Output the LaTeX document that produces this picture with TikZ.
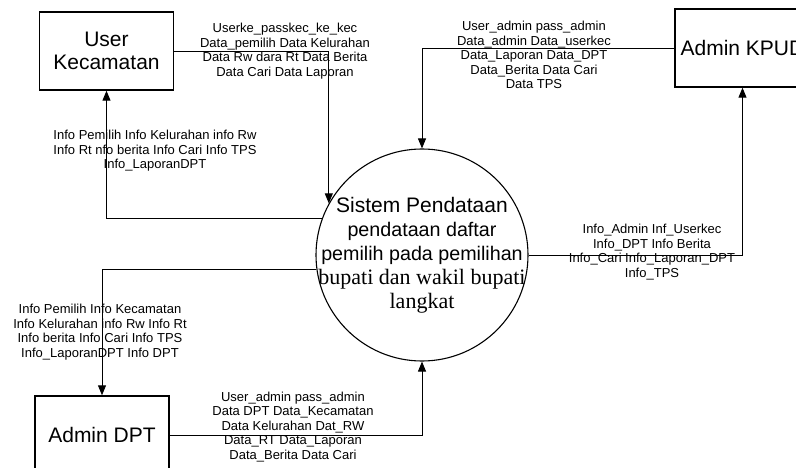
\documentclass[tikz,border=0pt]{standalone}
\usepackage{fontspec}
\setmainfont{Liberation Sans}
\newfontfamily\tnr{Liberation Serif}
\usetikzlibrary{arrows.meta, positioning}

\tikzset{
  ent/.style={draw, line width=1.4pt, minimum width=134pt, minimum height=78pt,
    align=center, font=\fontsize{21}{23.5}\selectfont},
  proc/.style={draw, circle, line width=1.1pt, minimum size=212pt, inner sep=0pt},
  flow/.style={align=center, inner sep=0pt, font=\fontsize{13}{14.5}\selectfont},
}

\begin{document}
\begin{tikzpicture}[x=1pt, y=-1pt, >={Triangle[length=10pt,width=8pt]}, line width=0.9pt]
  \path[use as bounding box, clip] (0,0) rectangle (796,468);

  % entities and process
  \node[ent] (uk) at (106.5,51) {User\\Kecamatan};
  \node[ent, minimum width=135pt] (kpud) at (742.5,48) {Admin KPUD};
  \node[ent] (dpt) at (102,435) {Admin DPT};
  \node[proc] (sys) at (422,255) {};
  \node[align=center, inner sep=0pt, font=\fontsize{19.7}{24}\selectfont] (systxt) at (sys.center)
    {{\fontsize{21}{24}\selectfont Sistem Pendataan}\\
     pendataan daftar\\
     pemilih pada pemilihan\\
     {\tnr\fontsize{22}{24}\selectfont bupati dan wakil bupati}\\
     {\tnr\fontsize{22}{24}\selectfont langkat}};

  % flows
  \draw[->] (uk.east) -| (sys.151);
  \draw[->] (sys.160) -| (uk.south);
  \draw[->] (sys.188) -| (dpt.north);
  \draw[->] (kpud.west) -| (sys.north);
  \draw[->] (sys.east) -| (kpud.south);
  \draw[->] (dpt.east) -| (sys.south);

  % flow labels
  \node[flow] (ukin) at (285,51) {Userke\_passkec\_ke\_kec\\Data\_pemilih Data Kelurahan\\Data Rw dara Rt Data Berita\\Data Cari Data Laporan};
  \node[flow] (ukout) at (155,151) {Info Pemilih Info Kelurahan info Rw\\Info Rt nfo berita Info Cari Info TPS\\Info\_LaporanDPT};
  \node[flow] (kpudin) at (534,55) {User\_admin pass\_admin\\Data\_admin Data\_userkec\\Data\_Laporan Data\_DPT\\Data\_Berita Data Cari\\Data TPS};
  \node[flow] (kpudout) at (652,252) {Info\_Admin Inf\_Userkec\\Info\_DPT Info Berita\\Info\_Cari Info\_Laporan\_DPT\\Info\_TPS};
  \node[flow] (dptout) at (100,332) {Info Pemilih Info Kecamatan\\Info Kelurahan info Rw Info Rt\\Info berita Info Cari Info TPS\\Info\_LaporanDPT Info DPT};
  \node[flow] (dptin) at (293,427) {User\_admin pass\_admin\\Data DPT Data\_Kecamatan\\Data Kelurahan Dat\_RW\\Data\_RT Data\_Laporan\\Data\_Berita Data Cari};
\end{tikzpicture}
\end{document}
